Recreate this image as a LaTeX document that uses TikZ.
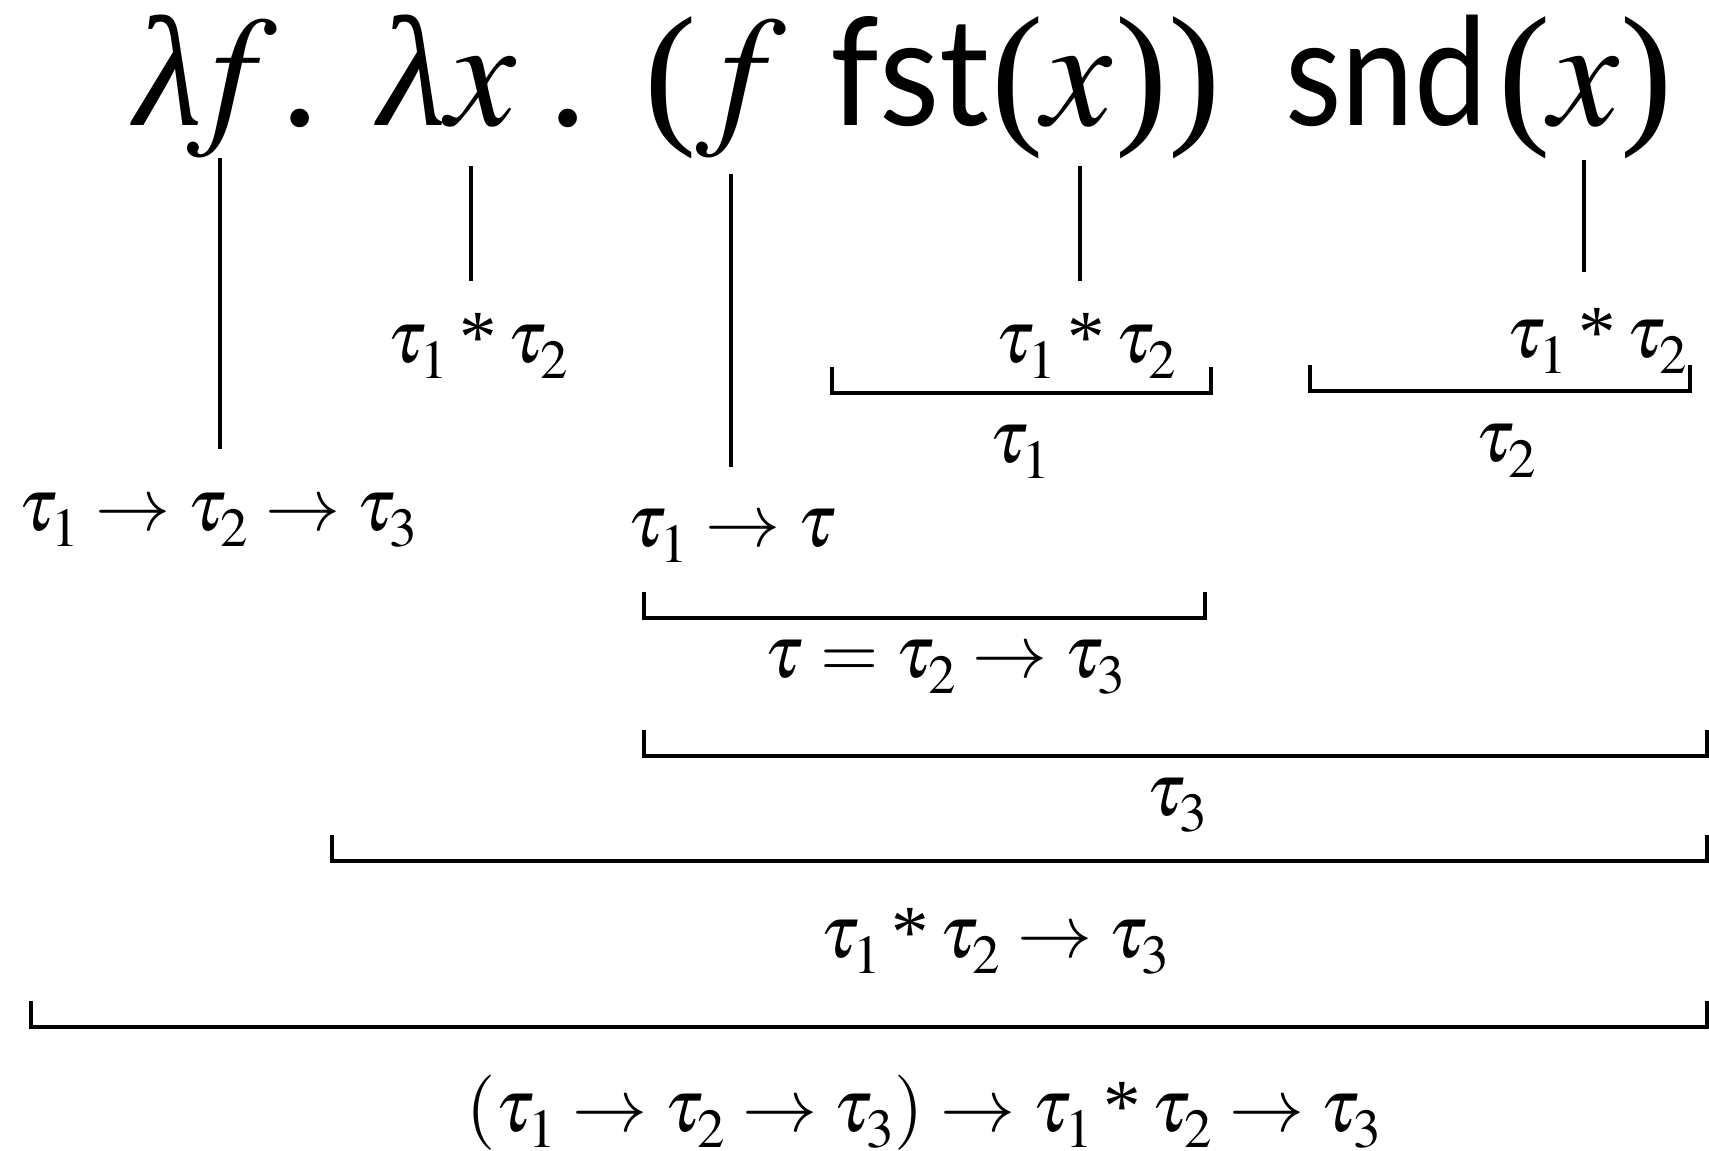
\documentclass[tikz,border=0pt]{standalone}
\usepackage{graphicx}
\usepackage{mathptmx}
\usepackage[no-math]{fontspec}
\setmainfont{Liberation Serif}
\newfontfamily\gillfont{Lato}
\DeclareMathSizes{75}{75}{55}{40}
\newcommand{\sfw}[2]{\resizebox{#1pt}{\height}{\fontsize{150}{170}\gillfont #2}}
\newcommand{\tms}{\mathbin{\mbox{*}}}
\newcommand{\tv}[1]{\tau_{\raisebox{-5pt}{$\scriptstyle #1$}}}
\newcommand{\lam}{{\itshape λ}}

\begin{document}
\begin{tikzpicture}[x=1pt,y=-1pt,line width=4.5pt,
  term/.style={anchor=base, inner sep=0pt, font=\fontsize{157}{180}\selectfont},
  ty/.style={anchor=base, inner sep=0pt, font=\fontsize{75}{90}\selectfont},
  brk/.style={line cap=butt}]
\useasboundingbox (0,0) rectangle (1709,1151);

% the term, piece by piece
\node[term] (lf) at (206,125) {\lam\hspace{-0.1em}$f$};
\node[term] (d1) at (300,125) {.};
\node[term] (lx) at (448,125) {\lam$x$};
\node[term] (d2) at (568,125) {.};
\node[term] (p1) at (671,125) {(};
\node[term] (ff) at (741,125) {$f$};
\node[term] (fst) at (910,125) {\sfw{159}{fst}};
\node[term] (p2) at (1018,125) {(};
\node[term] (x1) at (1078,125) {$x$};
\node[term] (p3) at (1142,125) {)};
\node[term] (p4) at (1195,125) {)};
\node[term] (snd) at (1386,125) {\sfw{202}{snd}};
\node[term] (p5) at (1525,125) {(};
\node[term] (x2) at (1585,125) {$x$};
\node[term] (p6) at (1647,125) {)};

\coordinate (lamf) at (220,158);
\coordinate (lamx) at (471,166);
\coordinate (appf) at (731,174);
\coordinate (fstx) at (1080,166);
\coordinate (sndx) at (1584,160);

% types of the leaves
\node[ty] (tyf) at (218,530) {$\tv1\to\tv2\to\tv3$};
\node[ty] (tyx) at (478,362) {$\tv1\tms\tv2$};
\node[ty] (tyapp) at (732,546) {$\tv1\to\tau$};
\node[ty] (tyfst) at (1086,362) {$\tv1\tms\tv2$};
\node[ty] (tysnd) at (1597,357) {$\tv1\tms\tv2$};

\draw (lamf) -- (lamf |- 0,449);
\draw (lamx) -- (lamx |- 0,281);
\draw (appf) -- (appf |- 0,467);
\draw (fstx) -- (fstx |- 0,281);
\draw (sndx) -- (sndx |- 0,272);

% brackets
\foreach \l/\r/\y in {832/1211/367, 1310/1690/365, 644/1205/592, 644/1707/730, 332/1707/835, 31/1707/1001}
{\draw[brk] (\l,\y) -- (\l,\y+26) -- (\r,\y+26) -- (\r,\y);}

\node[ty] (ty1) at (1020,462) {$\tv1$};
\node[ty] (ty2) at (1506,461) {$\tv2$};
\node[ty] (tytau) at (945,677) {$\tau=\tv2\to\tv3$};
\node[ty] (ty3) at (1177,815) {$\tv3$};
\node[ty] (typair) at (995,957) {$\tv1\tms\tv2\to\tv3$};
\node[ty] (tyall) at (924,1131) {$(\tv1\to\tv2\to\tv3)\to\tv1\tms\tv2\to\tv3$};

\end{tikzpicture}
\end{document}
